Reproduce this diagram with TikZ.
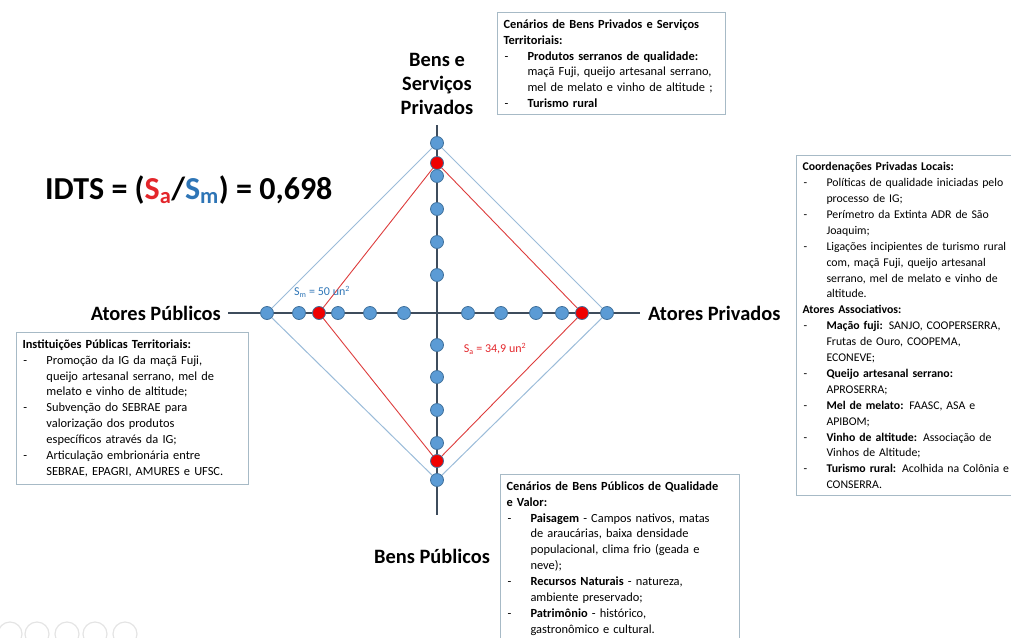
\documentclass[tikz,border=0pt]{standalone}
\usepackage{fontspec}
\setmainfont{Carlito}
\definecolor{dotblue}{HTML}{5B9BD5}
\definecolor{dotedge}{HTML}{41719C}
\definecolor{dotred}{HTML}{F00000}
\definecolor{axiscol}{HTML}{3E4C5C}
\definecolor{diablue}{HTML}{9BBCD9}
\definecolor{diared}{HTML}{DD3C3C}
\definecolor{boxcol}{HTML}{A7BAC6}
\definecolor{sred}{HTML}{E3262B}
\definecolor{sblue}{HTML}{2E75B6}
\definecolor{iconcol}{HTML}{E4E4E4}
\pgfdeclarelayer{bg}
\pgfsetlayers{bg,main}
\newcommand{\myDash}[1]{\makebox[24pt][l]{\hspace{1pt}-}#1}
\newcommand{\myCont}[1]{\hspace*{24pt}#1}
\begin{document}
\begin{tikzpicture}[x=1pt,y=-1pt,
  dot/.style={circle, fill=dotblue, draw=dotedge, line width=0.8pt, minimum size=13pt, inner sep=0pt},
  rdot/.style={dot, fill=dotred},
  axisline/.style={draw=axiscol, line width=1.3pt},
  bluedia/.style={draw=diablue, line width=1pt},
  reddia/.style={draw=diared, line width=0.9pt},
  infobox/.style={draw=boxcol, line width=1pt, anchor=north west, align=left, inner xsep=6pt, inner ysep=7pt, font=\fontsize{12.4}{15.9}\selectfont, fill=white},
  axlabel/.style={font=\bfseries\fontsize{20.4}{24}\selectfont, text=black, inner sep=0pt},
  arealabel/.style={font=\fontsize{12}{14}\selectfont, inner sep=0pt},
  icon/.style={circle, draw=iconcol, line width=1.2pt, minimum size=24pt, inner sep=0pt}
]
\useasboundingbox (0,0) rectangle (1011,637);
\clip (0,0) rectangle (1011,637);

% axis end points
\coordinate (axL) at (228,313);
\coordinate (axR) at (640,313);
\coordinate (axT) at (437,125);
\coordinate (axB) at (437,515);

% dots on horizontal axis
\node[dot]  (hl)  at (267,313) {};
\node[dot]  (h2)  at (299,313) {};
\node[rdot] (hlr) at (319,313) {};
\node[dot]  (h4)  at (338,313) {};
\node[dot]  (h5)  at (370,313) {};
\node[dot]  (h6)  at (404,313) {};
\node[dot]  (h7)  at (468,313) {};
\node[dot]  (h8)  at (501,313) {};
\node[dot]  (h9)  at (536,313) {};
\node[dot]  (h10) at (562,313) {};
\node[rdot] (hrr) at (582,313) {};
\node[dot]  (hr)  at (607,313) {};
% dots on vertical axis
\node[dot]  (vt)  at (437,143) {};
\node[rdot] (vtr) at (437,163) {};
\node[dot]  (v3)  at (437,176) {};
\node[dot]  (v4)  at (437,209) {};
\node[dot]  (v5)  at (437,242) {};
\node[dot]  (v6)  at (437,275) {};
\node[dot]  (v7)  at (437,345) {};
\node[dot]  (v8)  at (437,377) {};
\node[dot]  (v9)  at (437,410) {};
\node[dot]  (v10) at (437,443) {};
\node[rdot] (vbr) at (437,461) {};
\node[dot]  (vb)  at (437,480) {};

\begin{pgfonlayer}{bg}
  \draw[bluedia] (vt.center) -- (hr.center) -- (vb.center) -- (hl.center) -- cycle;
  \draw[reddia] (vtr.center) -- (hrr.center) -- (vbr.center) -- (hlr.center) -- cycle;
  \draw[axisline] (axL) -- (axR);
  \draw[axisline] (axT) -- (axB);
\end{pgfonlayer}

% axis labels
\node[axlabel, align=center] (lbsp) at (437,84) {Bens e\\Serviços\\Privados};
\node[axlabel, anchor=east] (lap) at (221,313) {Atores Públicos};
\node[axlabel, anchor=west] (lapr) at (648,313) {Atores Privados};
\node[axlabel] (lbp) at (432,556) {Bens Públicos};

% area labels
\node[arealabel, text=sblue] (lsm) at (322,292) {S\textsubscript{m} = 50 un\textsuperscript{2}};
\node[arealabel, text=sred] (lsa) at (495,349) {S\textsubscript{a} = 34,9 un\textsuperscript{2}};

% formula
\node[anchor=west, inner sep=0pt, font=\bfseries\fontsize{32}{38}\selectfont] (idts) at (45,190)
  {IDTS = (\textcolor{sred}{S\textsubscript{a}}/\textcolor{sblue}{S\textsubscript{m}}) = 0,698};

% boxes
\node[infobox, text width=216pt] (topbox) at (497,12) {%
\textbf{Cenários de Bens Privados e Serviços}\\
\textbf{Territoriais:}\\
\myDash{\textbf{Produtos serranos de qualidade:}}\\
\myCont{maçã Fuji, queijo artesanal serrano,}\\
\myCont{mel de melato e vinho de altitude ;}\\
\myDash{\textbf{Turismo rural}}};

\node[infobox, text width=250pt, font=\fontsize{11.8}{15.9}\selectfont] (rightbox) at (796,155) {%
\textbf{Coordenações Privadas Locais:}\\
\myDash{Políticas de qualidade iniciadas pelo}\\
\myCont{processo de IG;}\\
\myDash{Perímetro da Extinta ADR de São}\\
\myCont{Joaquim;}\\
\myDash{Ligações incipientes de turismo rural}\\
\myCont{com, maçã Fuji, queijo artesanal}\\
\myCont{serrano, mel de melato e vinho de}\\
\myCont{altitude.}\\
\textbf{Atores Associativos:}\\
\myDash{\textbf{Mação fuji:} SANJO, COOPERSERRA,}\\
\myCont{Frutas de Ouro, COOPEMA,}\\
\myCont{ECONEVE;}\\
\myDash{\textbf{Queijo artesanal serrano:}}\\
\myCont{APROSERRA;}\\
\myDash{\textbf{Mel de melato:} FAASC, ASA e}\\
\myCont{APIBOM;}\\
\myDash{\textbf{Vinho de altitude:} Associação de}\\
\myCont{Vinhos de Altitude;}\\
\myDash{\textbf{Turismo rural:} Acolhida na Colônia e}\\
\myCont{CONSERRA.}};

\node[infobox, text width=220pt] (leftbox) at (16,332) {%
\textbf{Instituições Públicas Territoriais:}\\
\myDash{Promoção da IG da maçã Fuji,}\\
\myCont{queijo artesanal serrano, mel de}\\
\myCont{melato e vinho de altitude;}\\
\myDash{Subvenção do SEBRAE para}\\
\myCont{valorização dos produtos}\\
\myCont{específicos através da IG;}\\
\myDash{Articulação embrionária entre}\\
\myCont{SEBRAE, EPAGRI, AMURES e UFSC.}};

\node[infobox, text width=227pt] (botbox) at (500,474) {%
\textbf{Cenários de Bens Públicos de Qualidade}\\
\textbf{e Valor:}\\
\myDash{\textbf{Paisagem} - Campos nativos, matas}\\
\myCont{de araucárias, baixa densidade}\\
\myCont{populacional, clima frio (geada e}\\
\myCont{neve);}\\
\myDash{\textbf{Recursos Naturais} - natureza,}\\
\myCont{ambiente preservado;}\\
\myDash{\textbf{Patrimônio} - histórico,}\\
\myCont{gastronômico e cultural.}};

% faint slide controls
\node[icon] (ic1) at (10,634) {};
\node[icon] (ic2) at (37,634) {};
\node[icon] (ic3) at (67,634) {};
\node[icon] (ic4) at (95,634) {};
\node[icon] (ic5) at (125,634) {};
\end{tikzpicture}
\end{document}
